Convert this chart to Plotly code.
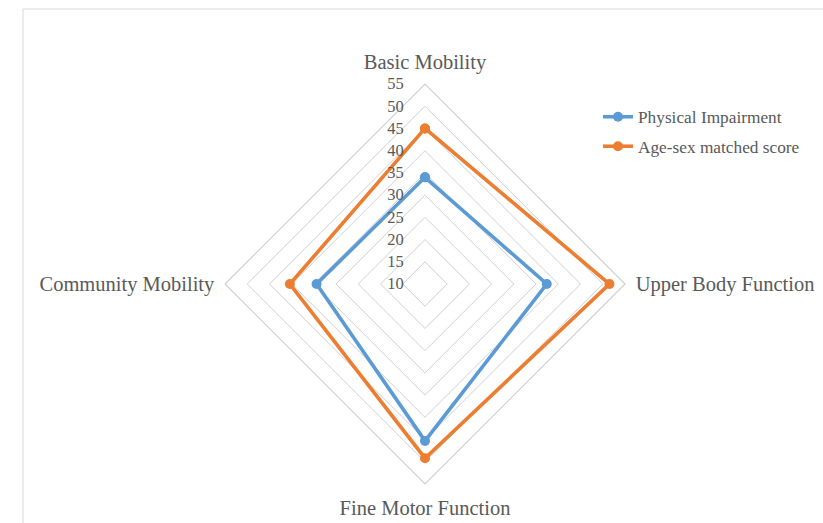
import plotly.graph_objects as go

# Domains of the physical function profile
categories = ["Basic Mobility", "Upper Body Function", "Fine Motor Function", "Community Mobility"]

# Scores per domain
physical_impairment = [34.0, 37.4, 45.3, 34.4]
age_sex_matched = [45.0, 51.5, 49.2, 40.4]

# Radial scale ticks
radial_ticks = [10, 15, 20, 25, 30, 35, 40, 45, 50, 55]

W, H = 823, 523
CX, CY, R = 425, 284, 200  # centre and radius of the radar, in pixels

TEXT = "#595959"
GRID = "#d0d0d0"
FONT = "Liberation Serif"

series = [
    ("Physical Impairment", physical_impairment, "#5b9bd5"),
    ("Age-sex matched score", age_sex_matched, "#ed7d31"),
]

fig = go.Figure()
for i, (name, vals, color) in enumerate(series):
    fig.add_trace(go.Scatterpolar(
        r=vals + vals[:1],
        theta=categories + categories[:1],
        mode="lines+markers",
        name=name,
        legendgroup=f"g{i}",
        line=dict(color=color, width=3.6),
        marker=dict(color=color, size=10),
    ))

fig.update_layout(
    width=W, height=H,
    margin=dict(l=0, r=0, t=0, b=0),
    paper_bgcolor="white",
    plot_bgcolor="white",
    font=dict(family=FONT, color=TEXT),
    polar=dict(
        domain=dict(
            x=[(CX - R) / W, (CX + R) / W],
            y=[(H - CY - R) / H, (H - CY + R) / H],
        ),
        bgcolor="white",
        gridshape="linear",
        angularaxis=dict(
            direction="clockwise",
            rotation=90,
            showgrid=False,
            showline=True,
            linecolor=GRID,
            linewidth=1.2,
            ticks="outside",
            ticklen=6,
            tickcolor="rgba(0,0,0,0)",
            tickfont=dict(family=FONT, size=20.5, color=TEXT),
        ),
        radialaxis=dict(
            range=[10, 55],
            tickvals=radial_ticks,
            angle=90,
            tickangle=90,
            side="counterclockwise",
            showline=False,
            showgrid=True,
            gridcolor=GRID,
            gridwidth=1.2,
            ticks="outside",
            ticklen=15,
            tickcolor="rgba(0,0,0,0)",
            tickfont=dict(family=FONT, size=16.5, color=TEXT),
        ),
    ),
    legend=dict(
        x=598 / W, y=1 - 99 / H,
        xanchor="left", yanchor="top",
        traceorder="grouped",
        tracegroupgap=4,
        font=dict(family=FONT, size=17.3, color=TEXT),
        bgcolor="rgba(0,0,0,0)",
    ),
    shapes=[
        dict(
            type="rect", xref="paper", yref="paper",
            x0=23 / W, x1=1.01, y0=-0.01, y1=1 - 9 / H,
            line=dict(color="#d9d9d9", width=1),
            fillcolor="rgba(0,0,0,0)",
            layer="below",
        )
    ],
)

fig.write_html("out.html")
